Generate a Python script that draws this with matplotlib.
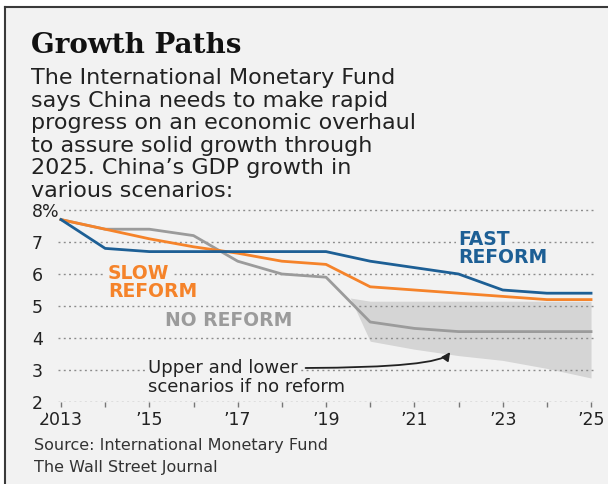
import matplotlib
matplotlib.use("Agg")
import matplotlib.pyplot as plt
from matplotlib.lines import Line2D
from matplotlib.patches import Rectangle

# ---- data -------------------------------------------------------------
years = list(range(2013, 2026))
fast_reform = [7.7, 6.8, 6.7, 6.7, 6.7, 6.7, 6.7, 6.4, 6.2, 6.0, 5.5, 5.4, 5.4]
slow_reform = [7.7, 7.4, 7.1, 6.85, 6.65, 6.4, 6.3, 5.6, 5.5, 5.4, 5.3, 5.2, 5.2]
no_reform = [7.7, 7.4, 7.4, 7.2, 6.4, 6.0, 5.9, 4.5, 4.3, 4.2, 4.2, 4.2, 4.2]

band_years = [2019.55, 2020, 2021, 2022, 2023, 2024, 2025]
band_upper = [5.25, 5.15, 5.15, 5.15, 5.15, 5.15, 5.15]
band_lower = [5.25, 3.9, 3.65, 3.45, 3.3, 3.05, 2.75]

ytick_values = [2, 3, 4, 5, 6, 7, 8]
ytick_labels = ["2", "3", "4", "5", "6", "7", "8%"]
xtick_labels = ["2013", "", "\u201915", "", "\u201917", "", "\u201919", "",
                "\u201921", "", "\u201923", "", "\u201925"]

title = "Growth Paths"
subtitle_lines = [
    "The International Monetary Fund",
    "says China needs to make rapid",
    "progress on an economic overhaul",
    "to assure solid growth through",
    "2025. China\u2019s GDP growth in",
    "various scenarios:",
]
source_lines = ["Source: International Monetary Fund", "The Wall Street Journal"]

# ---- style ------------------------------------------------------------
BG = "#f2f2f2"
BLUE = "#1d5f95"
ORANGE = "#f5832a"
GREY_LINE = "#9b9b9b"
BAND = "#d5d5d5"
GRID = "#8c8c8c"
INK = "#222222"

W, H = 608, 484
fig = plt.figure(figsize=(W / 100, H / 100), dpi=100, facecolor="white")


def fx(px):
    return px / W


def fy(py):
    return 1 - py / H


# panel background with a rule along the top and left edges
fig.patches.append(Rectangle((fx(4.5), 0), 1 - fx(4.5), fy(6.5), transform=fig.transFigure,
                             facecolor=BG, edgecolor="none", zorder=-10))
fig.add_artist(Line2D([fx(4.5), 1], [fy(6.5), fy(6.5)], color="#3a3a3a", lw=1.5))
fig.add_artist(Line2D([fx(4.5), fx(4.5)], [0, fy(6.5)], color="#3a3a3a", lw=1.5))

# pixel layout of the plotting area
X0_PX, X_STEP = 61.0, 44.17     # px of 2013, px per year
Y8_PX, Y_STEP = 210.0, 32.0     # px of 8%, px per point


def dx(px):
    return 2013 + (px - X0_PX) / X_STEP


def dy(py):
    return 8 - (py - Y8_PX) / Y_STEP


ax_left, ax_right, ax_top, ax_bottom = 58, 594, 204, 402
ax = fig.add_axes([fx(ax_left), fy(ax_bottom), fx(ax_right - ax_left), (ax_bottom - ax_top) / H])
ax.set_facecolor("none")
ax.set_xlim(dx(ax_left), dx(ax_right))
ax.set_ylim(dy(ax_bottom), dy(ax_top))
for s in ax.spines.values():
    s.set_visible(False)

# scenario band and paths
ax.fill_between(band_years, band_lower, band_upper, color=BAND, lw=0, zorder=1)
ax.plot(years, no_reform, color=GREY_LINE, lw=2.0, zorder=3, solid_joinstyle="round")
ax.plot(years, slow_reform, color=ORANGE, lw=2.0, zorder=4, solid_joinstyle="round")
ax.plot(years, fast_reform, color=BLUE, lw=2.0, zorder=5, solid_joinstyle="round")

# axes: dotted grid, year ticks along the 2% line
ax.set_yticks(ytick_values, ytick_labels)
ax.set_xticks(years, xtick_labels)
ax.grid(axis="y", color=GRID, lw=1.0, linestyle=(0, (1.4, 2.4)))
ax.grid(axis="x", visible=False)
ax.tick_params(axis="y", length=0, pad=(ax_left - 32) * 0.72, labelsize=12.5, labelcolor=INK)
for lbl in ax.get_yticklabels():
    lbl.set_horizontalalignment("left")
    lbl.set_bbox(dict(boxstyle="square,pad=0.15", fc=BG, ec="none"))
ax.tick_params(axis="x", direction="out", length=3.5, width=1.0, color="#777777",
               pad=3.2, labelsize=12.5, labelcolor=INK)

# series labels
lab_bbox = dict(boxstyle="square,pad=0.12", fc=BG, ec="none")
bold = dict(fontsize=13.5, fontweight="bold", family="DejaVu Sans", zorder=6)
ax.text(dx(458), dy(245), "FAST", color=BLUE, ha="left", va="baseline", bbox=lab_bbox, **bold)
ax.text(dx(458), dy(263), "REFORM", color=BLUE, ha="left", va="baseline", bbox=lab_bbox, **bold)
ax.text(dx(108), dy(279), "SLOW", color=ORANGE, ha="left", va="baseline", bbox=lab_bbox, **bold)
ax.text(dx(108), dy(297), "REFORM", color=ORANGE, ha="left", va="baseline", bbox=lab_bbox, **bold)
ax.text(dx(229), dy(326), "NO REFORM", color=GREY_LINE, ha="center", va="baseline",
        bbox=lab_bbox, **bold)

ax.annotate("Upper and lower", xy=(2021.81, 3.56), xytext=(dx(148), dy(373)),
            xycoords="data", textcoords="data", ha="left", va="baseline",
            fontsize=13, color=INK, zorder=6,
            bbox=dict(boxstyle="square,pad=0.05", fc=BG, ec="none"),
            arrowprops=dict(arrowstyle="-|>", color=INK, lw=1.3, mutation_scale=12,
                            connectionstyle="angle3,angleA=0,angleB=55",
                            relpos=(1, 0.5), shrinkA=5, shrinkB=0))
ax.text(dx(148), dy(392), "scenarios if no reform", fontsize=13, color=INK,
        ha="left", va="baseline", zorder=6)

# headline, subtitle and source
fig.text(fx(31), fy(53), title, family="DejaVu Serif", fontweight="bold",
         fontsize=20, color="#111111", ha="left", va="baseline")
for i, line in enumerate(subtitle_lines):
    fig.text(fx(31), fy(84 + 22.6 * i), line, fontsize=16, color=INK,
             ha="left", va="baseline")
for i, line in enumerate(source_lines):
    fig.text(fx(34), fy(450 + 22 * i), line, fontsize=11.5, color="#333333",
             ha="left", va="baseline")

fig.savefig("out.png", dpi=100, facecolor=fig.get_facecolor())
